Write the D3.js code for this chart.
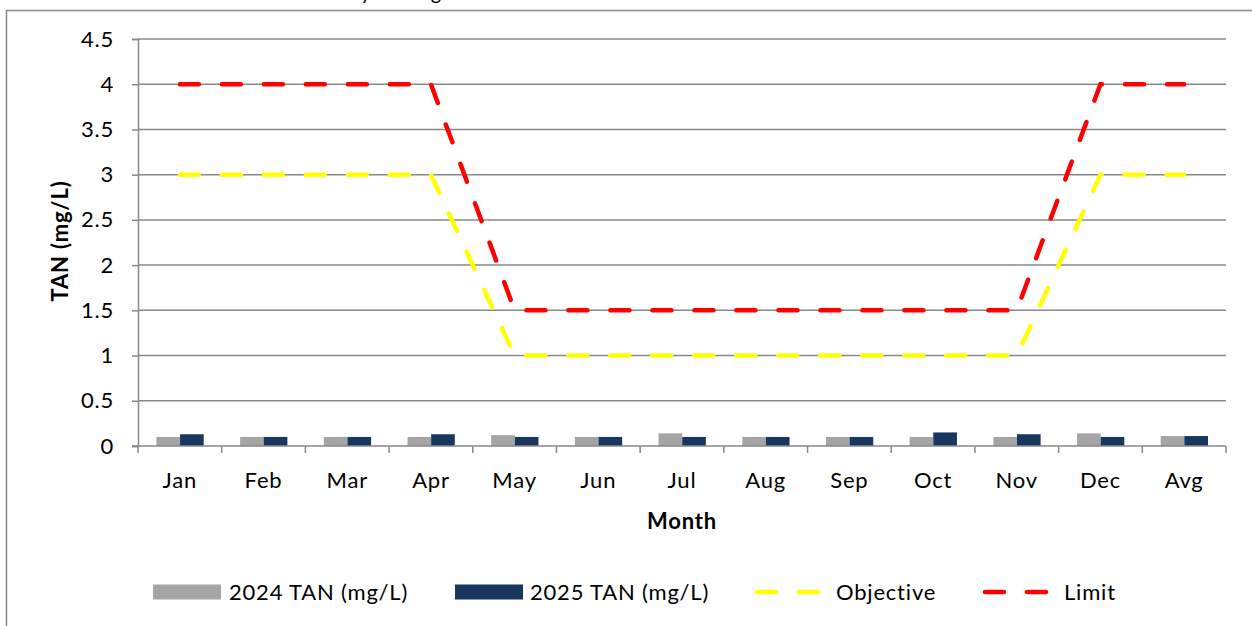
<!DOCTYPE html>
<html>
<head>
<meta charset="utf-8">
<script src="https://cdn.jsdelivr.net/npm/d3@7/dist/d3.min.js"></script>
<style>
  html, body { margin: 0; padding: 0; background: #fff; }
  svg { display: block; font-family: Lato, "Open Sans", sans-serif; }
  text { letter-spacing: 0.8px; }
</style>
</head>
<body>
<svg id="chart" width="1252" height="626"></svg>
<script>
// chart data
const months = ['Jan', 'Feb', 'Mar', 'Apr', 'May', 'Jun', 'Jul', 'Aug', 'Sep', 'Oct', 'Nov', 'Dec', 'Avg'];
const tan2024 = [0.10, 0.10, 0.10, 0.10, 0.12, 0.10, 0.14, 0.10, 0.10, 0.10, 0.10, 0.14, 0.11];
const tan2025 = [0.13, 0.10, 0.10, 0.13, 0.10, 0.10, 0.10, 0.10, 0.10, 0.15, 0.13, 0.10, 0.11];
const objective = [3, 3, 3, 3, 1, 1, 1, 1, 1, 1, 1, 3, 3];
const limit = [4, 4, 4, 4, 1.5, 1.5, 1.5, 1.5, 1.5, 1.5, 1.5, 4, 4];
const yTicks = [0, 0.5, 1, 1.5, 2, 2.5, 3, 3.5, 4, 4.5];

const svg = d3.select('#chart');
const grey = '#898989';
const fs = 22;

// outer chart frame (runs off the right/bottom of the picture)
svg.append('rect')
  .attr('x', 6.5).attr('y', 10.5)
  .attr('width', 1300).attr('height', 700)
  .attr('fill', 'none').attr('stroke', grey).attr('stroke-width', 1.5);

// title is mostly cut off above the frame, only descenders show
svg.append('text')
  .attr('x', 292).attr('y', 0)
  .attr('font-size', 20)
  .text('Monthly Average');

const plot = {left: 138, right: 1226, top: 39, bottom: 446};

const x0 = d3.scaleBand().domain(months).range([plot.left, plot.right]);
const x1 = d3.scaleBand().domain(['2024', '2025'])
  .range([x0.bandwidth() * 0.22, x0.bandwidth() * 0.785]);
const y = d3.scaleLinear().domain([0, 4.5]).range([plot.bottom, plot.top]);

// gridlines
svg.append('g').selectAll('line')
  .data(yTicks.slice(1))
  .join('line')
  .attr('x1', plot.left).attr('x2', plot.right)
  .attr('y1', d => y(d)).attr('y2', d => y(d))
  .attr('stroke', grey).attr('stroke-width', 1.5);

// y axis
const yAxis = svg.append('g')
  .attr('transform', `translate(${plot.left},0)`)
  .call(d3.axisLeft(y).tickValues(yTicks).tickSize(6).tickPadding(18)
    .tickFormat(d => d));
yAxis.select('.domain').attr('stroke', grey).attr('stroke-width', 1.5);
yAxis.selectAll('.tick line').attr('stroke', grey).attr('stroke-width', 1.5);
yAxis.selectAll('.tick text')
  .attr('font-size', fs).attr('fill', '#000')
  .attr('font-family', 'Lato, sans-serif');

// bars
const barColors = {'2024': '#a5a5a5', '2025': '#17375e'};
const barData = months.map((m, i) => ({month: m, vals: [
  {key: '2024', v: tan2024[i]}, {key: '2025', v: tan2025[i]}]}));

svg.append('g').selectAll('g')
  .data(barData)
  .join('g')
  .attr('transform', d => `translate(${x0(d.month)},0)`)
  .selectAll('rect')
  .data(d => d.vals)
  .join('rect')
  .attr('x', d => x1(d.key))
  .attr('width', x1.bandwidth())
  .attr('y', d => y(d.v))
  .attr('height', d => y(0) - y(d.v))
  .attr('fill', d => barColors[d.key]);

// x axis
const xAxis = svg.append('g')
  .attr('transform', `translate(0,${plot.bottom})`);
xAxis.append('line')
  .attr('x1', plot.left - 6).attr('x2', plot.right)
  .attr('stroke', grey).attr('stroke-width', 1.5);
xAxis.selectAll('line.tk')
  .data(months.map(m => x0(m)).concat([plot.right]))
  .join('line').attr('class', 'tk')
  .attr('x1', d => d).attr('x2', d => d)
  .attr('y1', 0).attr('y2', 7)
  .attr('stroke', grey).attr('stroke-width', 1.5);
xAxis.selectAll('text')
  .data(months)
  .join('text')
  .attr('x', d => x0(d) + x0.bandwidth() / 2)
  .attr('y', 42)
  .attr('text-anchor', 'middle')
  .attr('font-size', fs)
  .text(d => d);

// objective and limit lines
const line = d3.line()
  .x((d, i) => x0(months[i]) + x0.bandwidth() / 2)
  .y(d => y(d));

function drawLine(vals, color) {
  svg.append('path')
    .datum(vals)
    .attr('d', line)
    .attr('fill', 'none')
    .attr('stroke', color)
    .attr('stroke-width', 4.5)
    .attr('stroke-linecap', 'round')
    .attr('stroke-dasharray', '19,23');
}
drawLine(objective, '#ffff00');
drawLine(limit, '#ff0000');

// axis titles
svg.append('text')
  .attr('transform', 'translate(68,241) rotate(-90)')
  .attr('text-anchor', 'middle')
  .attr('font-size', fs).attr('font-weight', 'bold')
  .text('TAN (mg/L)');

svg.append('text')
  .attr('x', 682).attr('y', 529)
  .attr('text-anchor', 'middle')
  .attr('font-size', fs).attr('font-weight', 'bold')
  .text('Month');

// legend
const legend = svg.append('g').attr('transform', 'translate(0,592)');
const legendItems = [
  {label: '2024 TAN (mg/L)', type: 'bar', color: '#a5a5a5', x: 153, tx: 229},
  {label: '2025 TAN (mg/L)', type: 'bar', color: '#17375e', x: 455, tx: 530},
  {label: 'Objective', type: 'line', color: '#ffff00', x: 755, tx: 836},
  {label: 'Limit', type: 'line', color: '#ff0000', x: 983, tx: 1064}
];
legendItems.forEach(it => {
  if (it.type === 'bar') {
    legend.append('rect')
      .attr('x', it.x).attr('y', -7.5)
      .attr('width', 68).attr('height', 15)
      .attr('fill', it.color);
  } else {
    legend.append('path')
      .attr('d', `M${it.x + 2},0H${it.x + 66}`)
      .attr('stroke', it.color).attr('stroke-width', 4.5)
      .attr('stroke-linecap', 'round')
      .attr('stroke-dasharray', '19,23');
  }
  legend.append('text')
    .attr('x', it.tx).attr('y', 0)
    .attr('dy', '0.35em')
    .attr('font-size', fs)
    .text(it.label);
});
</script>
</body>
</html>
